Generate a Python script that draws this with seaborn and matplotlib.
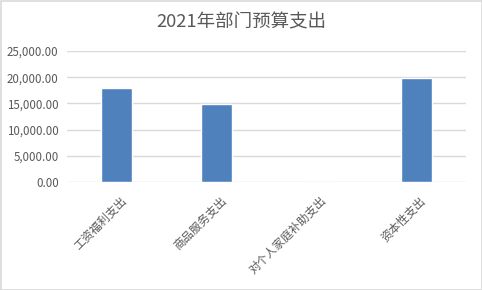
import matplotlib
matplotlib.use("Agg")
import matplotlib.pyplot as plt
import matplotlib.transforms as mtransforms
import seaborn as sns
import pandas as pd
from matplotlib.patches import Rectangle
from matplotlib.ticker import FuncFormatter

categories = ["工资福利支出", "商品服务支出", "对个人家庭补助支出", "资本性支出"]
values = [17900, 14870, 0, 19930]
title = "2021年部门预算支出"

sns.set_theme(style="white")
plt.rcParams['font.family'] = ['Noto Sans CJK SC', 'DejaVu Sans']

df = pd.DataFrame({"cat": categories, "val": values})

fig = plt.figure(figsize=(4.82, 2.90), dpi=100)
ax = fig.add_axes([67/482, 1-182/290, (466-67)/482, (182-51)/290])

sns.barplot(data=df, x="cat", y="val", ax=ax, color="#4F81BD", width=0.31,
            saturation=1, zorder=3)

ax.set_ylim(0, 25000)
ax.set_yticks([0, 5000, 10000, 15000, 20000, 25000])
ax.yaxis.set_major_formatter(FuncFormatter(lambda v, p: f"{v:,.2f}"))
ax.set_xlim(-0.5, 3.5)
ax.grid(axis="y", color="#D9D9D9", linewidth=1, zorder=0)
ax.set_axisbelow(True)
for s in ax.spines.values():
    s.set_visible(False)
ax.set_xlabel("")
ax.set_ylabel("")
ax.tick_params(axis="y", length=0, pad=6, labelsize=8.3, labelcolor="#595959")
ax.tick_params(axis="x", length=0, pad=4, labelsize=8.3, labelcolor="#595959")
offset = mtransforms.ScaledTranslation(8/100, -11/100, fig.dpi_scale_trans)
for lab in ax.get_xticklabels():
    lab.set_rotation(45)
    lab.set_rotation_mode("anchor")
    lab.set_ha("right")
    lab.set_va("center")
    lab.set_transform(lab.get_transform() + offset)

fig.text(0.5, 1-22/290, title, ha="center", va="center", fontsize=13.3, color="#595959")

fig.patches.append(Rectangle((0.5/482, 0.5/290), 1-1/482, 1-1/290, transform=fig.transFigure,
                             fill=False, edgecolor="#D9D9D9", linewidth=1.2))

fig.savefig("out.png", dpi=100)
